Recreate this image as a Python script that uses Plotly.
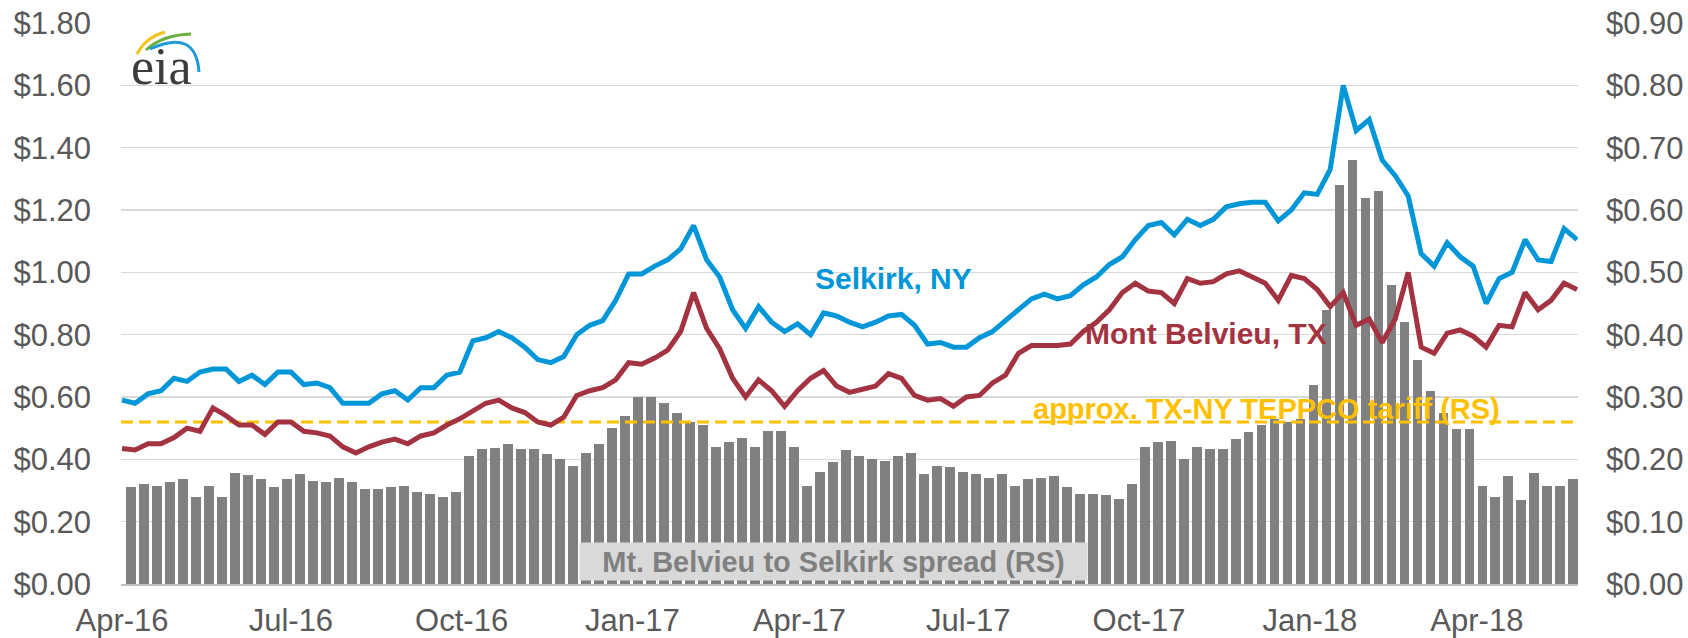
import pandas as pd
import plotly.graph_objects as go

# ---------------- data (weekly samples) ----------------
week_dates = pd.date_range("2016-04-01", periods=113, freq="7D")      # Fridays
selkirk = [0.59, 0.58, 0.61, 0.62, 0.66, 0.65, 0.68, 0.69, 0.69, 0.65,
           0.67, 0.64, 0.68, 0.68, 0.64, 0.645, 0.63, 0.58, 0.58, 0.58,
           0.61, 0.62, 0.59, 0.63, 0.63, 0.67, 0.68, 0.78, 0.79, 0.81,
           0.79, 0.76, 0.72, 0.71, 0.73, 0.80, 0.83, 0.845, 0.91, 0.995,
           0.995, 1.02, 1.04, 1.075, 1.15, 1.04, 0.985, 0.88, 0.82, 0.89,
           0.84, 0.81, 0.835, 0.80, 0.87, 0.86, 0.84, 0.825, 0.84, 0.86,
           0.865, 0.83, 0.77, 0.775, 0.76, 0.76, 0.79, 0.81, 0.845, 0.88,
           0.915, 0.93, 0.915, 0.925, 0.96, 0.985, 1.025, 1.05, 1.105, 1.15,
           1.16, 1.12, 1.17, 1.15, 1.17, 1.21, 1.22, 1.225, 1.225, 1.165,
           1.20, 1.255, 1.25, 1.33, 1.60, 1.455, 1.49, 1.36, 1.31, 1.245,
           1.06, 1.02, 1.095, 1.05, 1.02, 0.90, 0.98, 1.00, 1.105, 1.04,
           1.035, 1.14, 1.105]
mont_belvieu = [0.435, 0.43, 0.45, 0.45, 0.47, 0.50, 0.49, 0.565, 0.54, 0.51,
                0.51, 0.48, 0.52, 0.52, 0.49, 0.485, 0.475, 0.44, 0.42, 0.44,
                0.455, 0.465, 0.45, 0.475, 0.485, 0.51, 0.53, 0.555, 0.58, 0.59,
                0.565, 0.55, 0.52, 0.51, 0.535, 0.605, 0.62, 0.63, 0.655, 0.71,
                0.705, 0.725, 0.75, 0.81, 0.935, 0.82, 0.755, 0.66, 0.60, 0.655,
                0.62, 0.57, 0.62, 0.66, 0.685, 0.635, 0.615, 0.625, 0.635, 0.675,
                0.66, 0.605, 0.59, 0.595, 0.57, 0.60, 0.605, 0.645, 0.67, 0.74,
                0.765, 0.765, 0.765, 0.77, 0.81, 0.84, 0.88, 0.935, 0.965, 0.94,
                0.935, 0.90, 0.98, 0.965, 0.97, 0.995, 1.005, 0.985, 0.965, 0.91,
                0.99, 0.98, 0.945, 0.89, 0.935, 0.83, 0.85, 0.775, 0.85, 1.00,
                0.76, 0.74, 0.805, 0.815, 0.795, 0.76, 0.83, 0.825, 0.935, 0.88,
                0.91, 0.965, 0.945]

bar_weeks = pd.date_range("2016-04-06", periods=112, freq="7D")       # mid-week (Wed)
spread = [0.155, 0.16, 0.157, 0.163, 0.168, 0.14, 0.157, 0.14, 0.178, 0.175,
          0.168, 0.155, 0.168, 0.176, 0.165, 0.164, 0.17, 0.163, 0.152, 0.152,
          0.155, 0.157, 0.147, 0.144, 0.14, 0.147, 0.205, 0.216, 0.218, 0.224,
          0.216, 0.216, 0.208, 0.20, 0.19, 0.21, 0.225, 0.25, 0.27, 0.30,
          0.30, 0.29, 0.275, 0.26, 0.255, 0.22, 0.228, 0.235, 0.22, 0.245,
          0.245, 0.22, 0.158, 0.18, 0.195, 0.215, 0.206, 0.20, 0.197, 0.206,
          0.21, 0.177, 0.19, 0.187, 0.18, 0.177, 0.17, 0.177, 0.158, 0.168,
          0.17, 0.173, 0.155, 0.145, 0.145, 0.142, 0.137, 0.16, 0.22, 0.228,
          0.23, 0.20, 0.22, 0.217, 0.217, 0.233, 0.244, 0.255, 0.265, 0.26,
          0.265, 0.32, 0.44, 0.64, 0.68, 0.62, 0.63, 0.48, 0.42, 0.36,
          0.31, 0.275, 0.248, 0.248, 0.158, 0.14, 0.173, 0.135, 0.178, 0.158,
          0.158, 0.168]

tariff_level = 0.26
x_range = ["2016-03-31 11:00", "2018-05-25 12:00"]
quarter_ticks = pd.date_range("2016-04-01", "2018-04-01", freq="3MS")

# ---------------- style ----------------
BLUE = "#0096D7"
RED = "#A33340"
GOLD = "#FFC000"
GRAY = "#808080"
GRID = "#D9D9D9"
TXT = "#595959"
FONT = "Liberation Sans, Arial, sans-serif"

W, H = 1688, 638
L, R, T, B = 121, 110, 23, 54
PW, PH = W - L - R, H - T - B


def px(x):
    return (x - L) / PW


def py(y):
    return (H - B - y) / PH


fig = go.Figure()

fig.add_trace(go.Bar(
    x=bar_weeks, y=spread, yaxis="y", width=5.3 * 86400000,
    marker=dict(color=GRAY, line=dict(width=0)), name="spread",
))
fig.add_trace(go.Scatter(
    x=x_range, y=[tariff_level, tariff_level], yaxis="y", mode="lines",
    line=dict(color=GOLD, width=3, dash="12px,6px"), name="tariff",
))
fig.add_trace(go.Scatter(
    x=week_dates, y=mont_belvieu, yaxis="y2", mode="lines",
    line=dict(color=RED, width=5), name="Mont Belvieu, TX",
))
fig.add_trace(go.Scatter(
    x=week_dates, y=selkirk, yaxis="y2", mode="lines",
    line=dict(color=BLUE, width=5), name="Selkirk, NY",
))

annotations = [
    dict(text="<b>Selkirk, NY</b>", x=px(813), y=py(278), xanchor="left", yanchor="middle",
         font=dict(size=30, color=BLUE, family=FONT)),
    dict(text="<b>Mont Belvieu, TX</b>", x=px(1083), y=py(333), xanchor="left", yanchor="middle",
         font=dict(size=30, color=RED, family=FONT)),
    dict(text="<b>approx. TX-NY TEPPCO tariff (RS)</b>", x=px(1031), y=py(409), xanchor="left",
         yanchor="middle", font=dict(size=29, color=GOLD, family=FONT)),
    dict(text="<b>Mt. Belvieu to Selkirk spread (RS)</b>", x=px(833.5), y=py(561.5),
         xanchor="center", yanchor="middle", width=507, height=37, bgcolor="#D9D9D9",
         borderpad=0, font=dict(size=29, color=GRAY, family=FONT)),
    dict(text="eia", x=px(129), y=py(66), xanchor="left", yanchor="middle",
         font=dict(size=52, color="#3C3C3C", family="Liberation Serif, Times New Roman, serif")),
]
for a in annotations:
    a.update(xref="paper", yref="paper", showarrow=False)


def path(points_cmd):
    out = []
    for item in points_cmd:
        if isinstance(item, str):
            out.append(item)
        else:
            out.append(f"{px(item[0]):.5f},{py(item[1]):.5f}")
    return " ".join(out)


shapes = [
    dict(type="path", path=path(["M", (137, 54), "Q", (146, 37), (165, 32)]),
         line=dict(color="#F2C31B", width=3)),
    dict(type="path", path=path(["M", (146, 50), "Q", (162, 35), (191, 34)]),
         line=dict(color="#6AAE3E", width=3)),
    dict(type="path", path=path(["M", (150, 49), "Q", (196, 28), (199, 72)]),
         line=dict(color="#1E9AD6", width=3)),
]
for s in shapes:
    s.update(xref="paper", yref="paper", layer="above")

fig.update_layout(
    width=W, height=H,
    margin=dict(l=L, r=R, t=T, b=B, pad=0),
    paper_bgcolor="white", plot_bgcolor="white",
    showlegend=False, bargap=0, hovermode=False,
    font=dict(family=FONT, color=TXT, size=31),
    xaxis=dict(
        type="date", range=x_range, tickvals=quarter_ticks, tickformat="%b-%y",
        showgrid=False, zeroline=False, showline=True, linecolor="#BFBFBF", linewidth=1.5,
        ticks="", tickfont=dict(size=31, color=TXT), ticklabelstandoff=8, automargin=False,
    ),
    yaxis=dict(
        side="right", range=[0, 0.9], dtick=0.1, tick0=0, tickformat="$.2f",
        showgrid=True, gridcolor=GRID, gridwidth=1.5, zeroline=False, ticks="",
        tickfont=dict(size=31, color=TXT), ticklabelstandoff=27, automargin=False,
    ),
    yaxis2=dict(
        overlaying="y", side="left", range=[0, 1.8], dtick=0.2, tick0=0, tickformat="$.2f",
        showgrid=False, zeroline=False, ticks="",
        tickfont=dict(size=31, color=TXT), ticklabelstandoff=29, automargin=False,
    ),
    annotations=annotations,
    shapes=shapes,
)

fig.write_html(
    "out.html",
    config={"displayModeBar": False, "staticPlot": True},
    post_script="document.body.style.margin='0px';document.body.style.overflow='hidden';",
)
